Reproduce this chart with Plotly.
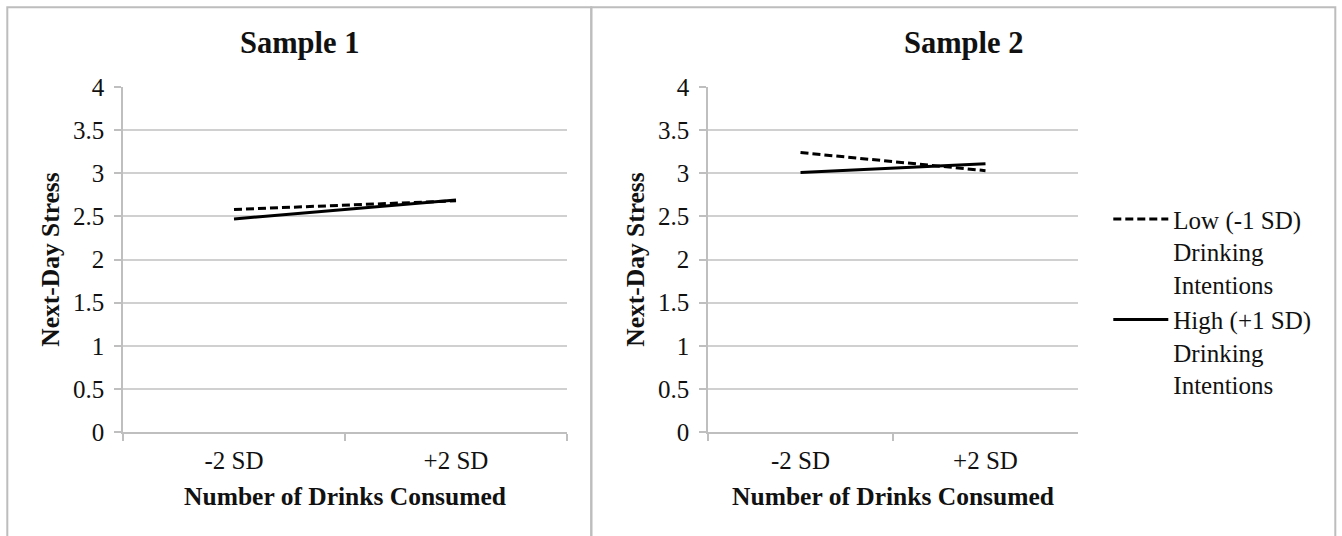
import plotly.graph_objects as go

# ---- data ----
categories = ["-2 SD", "+2 SD"]
sample1_low = [2.58, 2.68]
sample1_high = [2.47, 2.69]
sample2_low = [3.24, 3.03]
sample2_high = [3.01, 3.11]
y_ticks = [0, 0.5, 1, 1.5, 2, 2.5, 3, 3.5, 4]
y_ticklabels = ["0", "0.5", "1", "1.5", "2", "2.5", "3", "3.5", "4"]
panel_titles = ["Sample 1", "Sample 2"]
legend_names = ["Low (-1 SD)<br>Drinking<br>Intentions",
                "High (+1 SD)<br>Drinking<br>Intentions"]
x_title = "Number of Drinks Consumed"
y_title = "Next-Day Stress"

# ---- layout geometry (pixels) ----
W, H = 1342, 536
L, R, T, B = 122.7, 1077.7, 86.7, 432.0


def px(x):
    return (x - L) / (R - L)


def py(y):
    return (B - y) / (B - T)


FONT = "Liberation Serif, Times New Roman, serif"
GRID = "#d0d0d0"
AXIS = "#bfbfbf"

dash_style = "8px,4px"

fig = go.Figure()
fig.add_trace(go.Scatter(x=categories, y=sample1_low, mode="lines", name=legend_names[0],
                         legendgroup="low", showlegend=False,
                         line=dict(color="black", width=3, dash=dash_style),
                         xaxis="x", yaxis="y"))
fig.add_trace(go.Scatter(x=categories, y=sample1_high, mode="lines", name=legend_names[1],
                         legendgroup="high", showlegend=False,
                         line=dict(color="black", width=3),
                         xaxis="x", yaxis="y"))
fig.add_trace(go.Scatter(x=categories, y=sample2_low, mode="lines", name=legend_names[0],
                         legendgroup="low", showlegend=True,
                         line=dict(color="black", width=3, dash=dash_style),
                         xaxis="x2", yaxis="y2"))
fig.add_trace(go.Scatter(x=categories, y=sample2_high, mode="lines", name=legend_names[1],
                         legendgroup="high", showlegend=True,
                         line=dict(color="black", width=3),
                         xaxis="x2", yaxis="y2"))

xcommon = dict(type="category", range=[-0.5, 1.5], showline=True, linecolor=AXIS, linewidth=1.5,
               ticks="outside", tickson="boundaries", ticklen=7, tickcolor=AXIS, tickwidth=1.5,
               showgrid=False, zeroline=False, automargin=False, ticklabelstandoff=5,
               tickfont=dict(family=FONT, size=25, color="#111"),
               title=dict(text="<b>" + x_title + "</b>", font=dict(family=FONT, size=25.5, color="#111"),
                          standoff=14))
ycommon = dict(range=[0, 4], tickvals=y_ticks, ticktext=y_ticklabels, showline=True,
               linecolor=AXIS, linewidth=1.5, ticks="outside", ticklen=7, tickcolor=AXIS,
               tickwidth=1.5, showgrid=True, gridcolor=GRID, gridwidth=1.5, zeroline=False,
               automargin=False, ticklabelstandoff=5,
               tickfont=dict(family=FONT, size=25, color="#111"),
               title=dict(text="<b>" + y_title + "</b>", font=dict(family=FONT, size=25.5, color="#111"),
                          standoff=6))

fig.update_layout(
    width=W, height=H, autosize=False,
    margin=dict(l=L, r=W - R, t=T, b=H - B, pad=0),
    paper_bgcolor="white", plot_bgcolor="white",
    xaxis=dict(domain=[0, px(566.7)], anchor="y", **xcommon),
    yaxis=dict(domain=[0, 1], anchor="x", **ycommon),
    xaxis2=dict(domain=[px(707.7), 1], anchor="y2", **xcommon),
    yaxis2=dict(domain=[0, 1], anchor="x2", **ycommon),
    legend=dict(x=px(1108), y=py(196), xanchor="left", yanchor="top", valign="top",
                bgcolor="rgba(0,0,0,0)", borderwidth=0, traceorder="grouped",
                tracegroupgap=0, itemwidth=55,
                font=dict(family=FONT, size=25, color="#111")),
    showlegend=True,
    shapes=[
        dict(type="rect", xref="paper", yref="paper", x0=px(7), x1=px(591), y0=py(7), y1=py(548),
             line=dict(color="#bdbdbd", width=2), fillcolor="rgba(0,0,0,0)", layer="below"),
        dict(type="rect", xref="paper", yref="paper", x0=px(591), x1=px(1335), y0=py(7), y1=py(548),
             line=dict(color="#bdbdbd", width=2), fillcolor="rgba(0,0,0,0)", layer="below"),
    ],
    annotations=[
        dict(text="<b>" + panel_titles[0] + "</b>", x=px(299), y=py(43), xref="paper", yref="paper",
             xanchor="center", yanchor="middle", showarrow=False,
             font=dict(family=FONT, size=30.5, color="#111")),
        dict(text="<b>" + panel_titles[1] + "</b>", x=px(963), y=py(43), xref="paper", yref="paper",
             xanchor="center", yanchor="middle", showarrow=False,
             font=dict(family=FONT, size=30.5, color="#111")),
    ],
)

fig.write_html("out.html", config={"displayModeBar": False},
               post_script="document.body.style.margin='0';")
